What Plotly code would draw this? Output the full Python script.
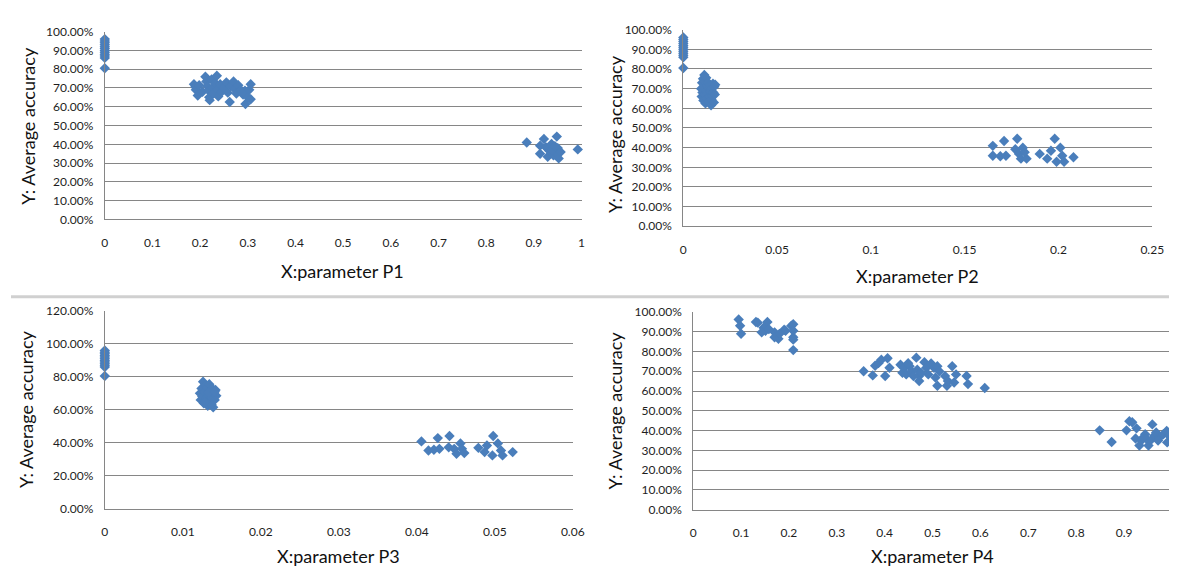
import plotly.graph_objects as go

# ---------------- data ----------------
# Panel 1 : X = parameter P1
p1_x = [0, 0, 0, 0, 0, 0, 0, 0, 0, 0, 0, 0,
        0.187, 0.19, 0.191, 0.195, 0.198, 0.205, 0.211, 0.213, 0.215, 0.218, 0.219, 0.22,
        0.224, 0.226, 0.228, 0.232, 0.235, 0.236, 0.238, 0.242, 0.245, 0.25, 0.255, 0.258,
        0.262, 0.264, 0.27, 0.272, 0.276, 0.28, 0.285, 0.29, 0.294, 0.295, 0.3, 0.303, 0.306, 0.306,
        0.885, 0.913, 0.913, 0.921, 0.925, 0.929, 0.929, 0.933, 0.937, 0.941, 0.945, 0.948,
        0.95, 0.952, 0.956, 0.938, 0.944, 0.992]
p1_y = [80.5, 86, 87, 88, 89, 90, 91, 92, 93, 94, 95, 96,
        72, 70.5, 69, 66, 71.5, 68, 76, 73.5, 71, 68.5, 65, 63.5,
        74.5, 70, 67, 72.5, 76.5, 69, 65.5, 72, 68, 70, 73, 67.5,
        62.5, 71, 73.5, 69.5, 67, 71.5, 69, 66.5, 68.5, 61.5, 65, 69, 72, 64,
        41, 39.3, 35, 42.8, 38.5, 37.6, 33.4, 36.5, 40.2, 34.2, 35.9, 44.1,
        38, 32.5, 35.9, 37, 39, 37.3]

# Panel 2 : X = parameter P2
p2_x = [0, 0, 0, 0, 0, 0, 0, 0, 0, 0, 0, 0,
        0.0095, 0.0098, 0.01, 0.0102, 0.0105, 0.0107, 0.011, 0.0112, 0.0113, 0.0115, 0.0118,
        0.012, 0.0122, 0.0125, 0.0127, 0.013, 0.0132, 0.0135, 0.0137, 0.014, 0.0142, 0.0145,
        0.0148, 0.015, 0.0152, 0.0155, 0.0158, 0.016, 0.0163, 0.0165, 0.0168, 0.017,
        0.165, 0.165, 0.169, 0.171, 0.172, 0.178, 0.177, 0.179, 0.181, 0.18, 0.183, 0.182,
        0.19, 0.194, 0.196, 0.198, 0.199, 0.201, 0.202, 0.203, 0.208]
p2_y = [80.5, 86, 87, 88, 89, 90, 91, 92, 93, 94, 95, 96,
        70, 66, 73, 68, 75, 64, 71, 77, 67, 73.5, 62.5,
        69, 75.5, 65, 71.5, 67.5, 73, 63.5, 70, 66, 72, 68.5,
        61.5, 64.5, 70.5, 66.5, 72.5, 68, 63, 71, 67, 72,
        40.9, 35.9, 35.6, 43.4, 35.9, 44.5, 39.2, 36.8, 40, 34.4, 34.4, 37.7,
        36.8, 34.4, 38.4, 44.5, 32.8, 40, 35.9, 32.8, 35.1]

# Panel 3 : X = parameter P3
p3_x = [0, 0, 0, 0, 0, 0, 0, 0, 0, 0, 0, 0,
        0.0122, 0.0123, 0.0124, 0.0125, 0.0126, 0.0127, 0.0128, 0.0129, 0.013, 0.0131,
        0.0132, 0.0133, 0.0134, 0.0135, 0.0136, 0.0137, 0.0138, 0.0139, 0.014, 0.0141,
        0.0142, 0.0143, 0.0128, 0.0133, 0.0137, 0.0141,
        0.0406, 0.0415, 0.0422, 0.0427, 0.0429, 0.0442, 0.0441, 0.0448, 0.0451, 0.0456,
        0.0458, 0.0461, 0.0479, 0.0487, 0.049, 0.0497, 0.0498, 0.0504, 0.0508, 0.051, 0.0523]
p3_y = [80.5, 86, 87, 88, 89, 90, 91, 92, 93, 94, 95, 96,
        70, 66, 73, 68, 77, 64, 71, 75, 67, 73.5,
        62.5, 69, 75.5, 65, 71.5, 67.5, 73, 61.5, 70, 66,
        72, 68.5, 64.5, 70.5, 63, 71,
        40.8, 35.3, 35.7, 42.8, 36.3, 44.1, 37.2, 36.3, 33.3, 39.6,
        36.3, 33.7, 36.9, 34.3, 38.3, 32.3, 44.1, 39.6, 35.3, 32.3, 34.3]

# Panel 4 : X = parameter P4
p4_x = [0.095, 0.098, 0.1, 0.131, 0.135, 0.155, 0.147, 0.151, 0.143, 0.17, 0.17, 0.178,
        0.19, 0.193, 0.205, 0.209, 0.209, 0.209, 0.209, 0.209, 0.18, 0.158,
        0.356, 0.375, 0.38, 0.387, 0.393, 0.406, 0.401, 0.41, 0.433, 0.437, 0.441, 0.445,
        0.452, 0.456, 0.46, 0.466, 0.468, 0.472, 0.472, 0.483, 0.487, 0.491, 0.497, 0.503,
        0.51, 0.514, 0.51, 0.526, 0.53, 0.532, 0.541, 0.545, 0.549, 0.571, 0.574, 0.609,
        0.449, 0.476, 0.506,
        0.849, 0.874, 0.905, 0.911, 0.917, 0.926, 0.924, 0.932, 0.936, 0.944, 0.947, 0.951,
        0.955, 0.959, 0.963, 0.967, 0.974, 0.982, 0.989, 0.99, 0.994, 0.971, 0.94]
p4_y = [96.2, 93, 89, 94.9, 94.6, 94.9, 92, 90.5, 89.7, 89.7, 87.2, 86.4,
        91, 90.5, 93, 93.8, 90.5, 87.2, 86, 80.7, 88.9, 91.3,
        70, 67.9, 72.8, 74.1, 75.8, 76.6, 67.6, 71.8, 73.3, 69.2, 71.8, 68.4,
        72.5, 70, 67.6, 76.9, 70.8, 67.6, 65.1, 74.6, 71.8, 68.4, 73.9, 71.8,
        72.5, 70, 62.7, 67.6, 62.7, 65.1, 72.5, 64.3, 68.4, 67.6, 63.5, 61.5,
        74.1, 69.2, 66.8,
        40.1, 34.2, 40.1, 44.7, 44.2, 41.1, 36, 32.4, 34.9, 38.1, 35.7, 32.4,
        34.9, 43.1, 37.4, 39, 36.5, 38.1, 39.8, 34, 37.4, 34.9, 36.5]

x_titles = ["X:parameter P1", "X:parameter P2", "X:parameter P3", "X:parameter P4"]
y_title = "Y: Average accuracy"

# ---------------- layout geometry ----------------
W, H = 1177, 567
# plot areas in pixels: (left, right, top, bottom)
areas = [(95, 578, 16, 209), (681, 1156, 14, 216), (95, 569, 303, 506), (691, 1176, 304, 507)]
x_ranges = [[0, 1.0001], [0, 0.25001], [0, 0.060001], [0, 1.0001]]
x_dticks = [0.1, 0.05, 0.01, 0.1]
y_ranges = [[0, 1.0001], [0, 1.0001], [0, 1.20001], [0, 1.0001]]
y_dticks = [0.1, 0.1, 0.2, 0.1]
xt_pos = [(336, 262), (918, 267), (332, 555), (933, 555)]
yt_pos = [(17, 113), (612, 121), (16, 404), (612, 405)]

BLUE = "#4A7EBB"
GRID = "#868686"
TXT = "#1e1e1e"
FONT = "Lato, Carlito, 'Liberation Sans', sans-serif"

fig = go.Figure()
data = [(p1_x, p1_y), (p2_x, p2_y), (p3_x, p3_y), (p4_x, p4_y)]
for i, (xs, ys) in enumerate(data):
    n = "" if i == 0 else str(i + 1)
    fig.add_trace(go.Scatter(
        x=xs, y=[v / 100 for v in ys], mode="markers",
        marker=dict(symbol="diamond", size=8, color=BLUE, line=dict(width=0)),
        cliponaxis=False, showlegend=False,
        xaxis="x" + n, yaxis="y" + n))

layout = dict(
    width=W, height=H, margin=dict(l=0, r=0, t=0, b=0),
    paper_bgcolor="white", plot_bgcolor="white", showlegend=False,
    font=dict(family=FONT, size=12, color=TXT),
)
for i in range(4):
    n = "" if i == 0 else str(i + 1)
    l, r, t, b = areas[i]
    layout["xaxis" + n] = dict(
        domain=[l / W, r / W], range=x_ranges[i], dtick=x_dticks[i], tick0=0,
        anchor="y" + n, showgrid=False, zeroline=False,
        showline=True, linecolor=GRID, linewidth=1,
        ticks="outside", ticklen=12, tickcolor="rgba(0,0,0,0)",
        tickfont=dict(family=FONT, size=12, color=TXT), fixedrange=True)
    layout["yaxis" + n] = dict(
        domain=[1 - b / H, 1 - t / H], range=y_ranges[i], dtick=y_dticks[i], tick0=0,
        anchor="x" + n, tickformat=".2%", showgrid=True, gridcolor=GRID, gridwidth=1,
        zeroline=False, showline=True, linecolor=GRID, linewidth=1,
        ticks="outside", ticklen=8, tickcolor="rgba(0,0,0,0)",
        tickfont=dict(family=FONT, size=12, color=TXT), fixedrange=True)

annotations = []
for i in range(4):
    xp, yp = xt_pos[i]
    annotations.append(dict(text=x_titles[i], x=xp / W, y=1 - yp / H, xref="paper", yref="paper",
                            xanchor="center", yanchor="middle", showarrow=False,
                            font=dict(family=FONT, size=18, color="#111111")))
    xp, yp = yt_pos[i]
    annotations.append(dict(text=y_title, x=xp / W, y=1 - yp / H, xref="paper", yref="paper",
                            xanchor="center", yanchor="middle", showarrow=False, textangle=-90,
                            font=dict(family=FONT, size=18, color="#111111")))
layout["annotations"] = annotations
layout["shapes"] = [dict(type="line", xref="paper", yref="paper", x0=0, x1=1,
                         y0=1 - 288.5 / H, y1=1 - 288.5 / H,
                         line=dict(color="#d0d0d0", width=3))]

fig.update_layout(**layout)
fig.write_html("out.html")
